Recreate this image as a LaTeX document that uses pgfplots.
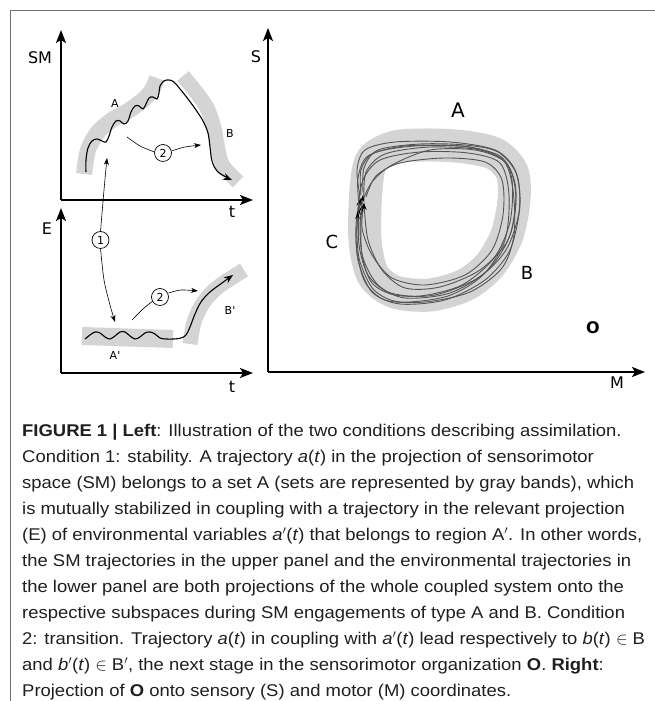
\documentclass[border=0pt]{standalone}
\usepackage{pgfplots}
\pgfplotsset{compat=1.18}
\usepackage{fontspec}
\setmainfont{Liberation Sans}
\newfontfamily\capfont{Liberation Sans}[FakeStretch=1.085]
\newfontfamily\dv{DejaVu Sans}
\usetikzlibrary{arrows.meta}
\definecolor{band}{HTML}{D4D4D4}
\definecolor{traj}{HTML}{555555}
\definecolor{frame}{HTML}{707070}
\tikzset{
  lbl/.style={font=\dv\fontsize{11}{11}\selectfont},
  axlbl/.style={font=\dv\fontsize{16}{16}\selectfont},
}
\pgfplotsset{
  panel/.style={
    scale only axis, anchor=south west, clip=false,
    axis lines=left, xtick=\empty, ytick=\empty,
    axis line style={line width=2pt, -{Stealth[length=13pt,width=10pt,inset=3pt]}},
  },
  bandline/.style={band, line width=#1, smooth, line cap=butt, no markers},
  wave/.style={black, line width=1.1pt, smooth, no markers, tension=0.6},
  thin arrow/.style={black, line width=0.6pt, smooth, no markers},
  loop/.style={traj, line width=0.9pt, smooth, no markers, -{Stealth[length=7pt,width=4.5pt,color=black]}},
}
\begin{document}
\begin{tikzpicture}[x=1pt,y=1pt]
\path[use as bounding box] (0,0) rectangle (655,701);
% ---------------- upper left panel
\begin{axis}[panel, at={(61pt,501pt)}, width=192pt, height=170pt,
  xmin=61, xmax=253, ymin=-200, ymax=-30]
\addplot[bandline=16pt] coordinates {(84,-174) (88,-150) (98,-132) (112,-120) (128,-111) (143,-100) (152,-90) (157,-78)};
\addplot[bandline=15pt] coordinates {(183,-76) (196,-92) (207,-108) (214,-128) (218,-150) (223,-166) (238,-182)};
\addplot[wave, -{Stealth[length=9pt,width=7pt]}] coordinates {
 (86,-172) (86,-160) (88,-148) (92,-141) (97,-139) (102,-141) (106,-142)
 (109,-136) (112,-127) (116,-121) (120,-121) (124,-124) (128,-121) (131,-112)
 (135,-106) (139,-106) (143,-109) (146,-104) (149,-98) (153,-97) (157,-99)
 (159,-93) (160,-86) (164,-81) (169,-80) (174,-82) (180,-89) (188,-99)
 (196,-110) (203,-121) (208,-133) (210,-147) (212,-161) (217,-171) (226,-177) (232,-180)};
\addplot[thin arrow] coordinates {(127,-137) (140,-146) (154.5,-152)};
\addplot[thin arrow, -{Stealth[length=7pt,width=5pt]}] coordinates {(171.5,-151) (185,-147) (201,-145)};
\node[draw, circle, line width=0.7pt, minimum size=17pt, inner sep=0pt, fill=white, lbl] at (axis cs:163,-153) {2};
\node[lbl] at (axis cs:115,-103) {A};
\node[lbl] at (axis cs:230,-133) {B};
\node[axlbl] at (axis cs:40,-58) {SM};
\node[axlbl] at (axis cs:232,-212) {t};
\end{axis}
% ---------------- lower left panel
\begin{axis}[panel, at={(61pt,328pt)}, width=192pt, height=165pt,
  xmin=61, xmax=253, ymin=-373, ymax=-208]
\addplot[bandline=18pt] coordinates {(82,-336) (173,-339)};
\addplot[bandline=15pt] coordinates {(190,-344) (194,-322) (203,-303) (218,-287) (244,-270)};
\addplot[wave, -{Stealth[length=9pt,width=7pt]}] coordinates {
 (85,-339) (90,-335) (95,-332) (100,-333) (105,-337) (110,-339) (115,-336)
 (120,-332) (125,-332) (130,-336) (135,-339) (140,-337) (145,-333) (150,-332)
 (155,-334) (160,-338) (166,-339) (174,-339) (181,-338) (186,-335) (190,-327)
 (195,-314) (201,-302) (210,-292) (222,-283) (233,-275)};
\addplot[thin arrow, {Stealth[length=7pt,width=5pt]}-] coordinates {(107,-158) (104,-190) (100.5,-231.5)};
\addplot[thin arrow, -{Stealth[length=7pt,width=5pt]}] coordinates {(100.5,-248.5) (104,-280) (110,-305) (115,-322)};
\addplot[thin arrow] coordinates {(132,-320) (144,-308) (153,-301)};
\addplot[thin arrow, -{Stealth[length=7pt,width=5pt]}] coordinates {(168.5,-293) (181,-290) (198,-291)};
\node[draw, circle, line width=0.7pt, minimum size=17pt, inner sep=0pt, fill=white, lbl] at (axis cs:100.5,-240) {1};
\node[draw, circle, line width=0.7pt, minimum size=17pt, inner sep=0pt, fill=white, lbl] at (axis cs:160,-297) {2};
\node[lbl] at (axis cs:115,-355) {A'};
\node[lbl] at (axis cs:230,-310) {B'};
\node[axlbl] at (axis cs:47,-229) {E};
\node[axlbl] at (axis cs:232,-387) {t};
\end{axis}
% ---------------- right panel
\begin{axis}[panel, at={(268pt,329pt)}, width=377pt, height=344pt,
  xmin=268, xmax=645, ymin=-372, ymax=-28]
\addplot[band, line width=33pt, smooth cycle, no markers] coordinates {
 (366,-190) (372,-160) (395,-147) (430,-145) (465,-147) (495,-154) (512,-172)
 (514,-200) (507,-235) (490,-265) (465,-285) (430,-295) (395,-292) (373,-275) (365,-240)};
\addplot[loop] coordinates {(360,-196) (357,-170) (365,-150) (395,-142) (450,-142) (495,-150) (515,-170) (520,-205) (510,-250) (485,-280) (445,-300) (400,-304) (372,-292) (358,-260) (356,-225) (360,-199)};
\addplot[loop] coordinates {(366,-197) (376,-176) (400,-163) (445,-158) (485,-162) (502,-180) (503,-215) (492,-250) (465,-275) (425,-285) (392,-278) (372,-255) (362,-228) (364,-203)};
\addplot[loop] coordinates {(362,-202) (372,-182) (392,-165) (430,-150) (475,-150) (505,-162) (516,-190) (510,-235) (488,-270) (450,-293) (405,-298) (378,-285) (363,-258) (360,-228) (362,-205)};
\addplot[loop] coordinates {(359,-205) (358,-178) (368,-156) (405,-146) (460,-146) (500,-156) (512,-180) (510,-222) (494,-258) (462,-285) (420,-296) (388,-292) (368,-275) (359,-245) (359,-208)};
\addplot[loop] coordinates {(364,-200) (366,-172) (385,-154) (430,-147) (480,-150) (508,-165) (516,-200) (508,-240) (480,-270) (440,-287) (405,-288) (382,-270) (368,-240) (364,-203)};
\addplot[loop] coordinates {(361,-195) (361,-170) (374,-153) (415,-146) (470,-147) (503,-160) (513,-190) (514,-235) (502,-268) (470,-292) (425,-302) (385,-300) (364,-280) (356,-240) (361,-198)};
\addplot[loop] coordinates {(358,-209) (363,-180) (380,-160) (420,-152) (468,-153) (500,-163) (509,-195) (505,-240) (483,-275) (448,-296) (400,-302) (374,-290) (360,-262) (357,-235) (358,-212)};
\addplot[loop] coordinates {(363,-192) (364,-168) (378,-150) (420,-144) (465,-145) (498,-152) (517,-175) (519,-212) (506,-250) (478,-278) (435,-295) (395,-295) (372,-283) (362,-255) (361,-220) (363,-195)};
\node[font=\dv\fontsize{20}{20}\selectfont] at (axis cs:458,-110) {A};
\node[font=\dv\fontsize{18}{18}\selectfont] at (axis cs:332,-242) {C};
\node[font=\dv\fontsize{18}{18}\selectfont] at (axis cs:527,-273) {B};
\node[font=\dv\bfseries\fontsize{16}{16}\selectfont] at (axis cs:593,-328) {O};
\node[axlbl] at (axis cs:256,-57) {S};
\node[axlbl] at (axis cs:617,-383) {M};
\end{axis}
% ---------------- frame
\draw[frame, line width=1.3pt] (10.5,0) -- (10.5,690.5) -- (655,690.5);
% ---------------- caption
\begin{scope}[every node/.style={anchor=base west, inner sep=0pt, text=black!88, font=\capfont\fontsize{17}{20}\selectfont}]
\node at (22,264) {\textbf{FIGURE 1 | Left}: Illustration of the two conditions describing assimilation.};
\node at (22,238) {Condition 1: stability. A trajectory \textit{a}(\textit{t}) in the projection of sensorimotor};
\node at (22,212) {space (SM) belongs to a set A (sets are represented by gray bands), which};
\node at (22,186) {is mutually stabilized in coupling with a trajectory in the relevant projection};
\node at (22,160) {(E) of environmental variables \textit{a}$'$(\textit{t}) that belongs to region A$'$. In other words,};
\node at (22,134) {the SM trajectories in the upper panel and the environmental trajectories in};
\node at (22,108) {the lower panel are both projections of the whole coupled system onto the};
\node at (22,82) {respective subspaces during SM engagements of type A and B. Condition};
\node at (22,56) {2: transition. Trajectory \textit{a}(\textit{t}) in coupling with \textit{a}$'$(\textit{t}) lead respectively to \textit{b}(\textit{t}) $\in$ B};
\node at (22,30) {and \textit{b}$'$(\textit{t}) $\in$ B$'$, the next stage in the sensorimotor organization \textbf{O}. \textbf{Right}:};
\node at (22,4.5) {Projection of \textbf{O} onto sensory (S) and motor (M) coordinates.};
\end{scope}
\end{tikzpicture}
\end{document}
